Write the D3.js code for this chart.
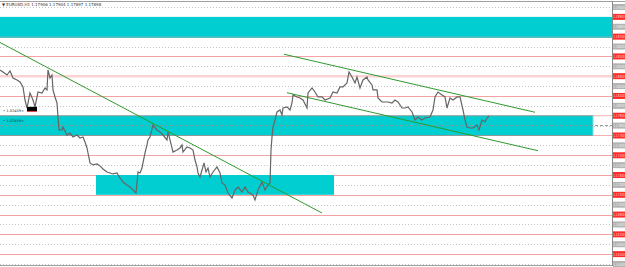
<!DOCTYPE html>
<html><head><meta charset="utf-8">
<script src="https://cdn.jsdelivr.net/npm/d3@7"></script>
<style>body{margin:0;background:#fff}svg{display:block}</style></head>
<body>
<script>
// ---- data ----
const bars = [0,3,7,10,13,17,20,23,25,27,30,33,35,38,42,45,47,48,50,52,53,55,57,58,59,62,63,67,70,73,77,80,83,85,87,88,90,93,97,100,103,107,110,113,117,120,123,127,130,133,136,137,138,140,142,143,145,147,148,150,153,157,160,163,167,168,170,172,173,177,180,182,183,187,190,193,195,197,198,200,202,204,206,208,210,213,217,220,222,225,228,232,235,238,242,245,248,253,255,258,262,265,268,270,271,272,273,275,277,280,282,283,287,290,292,293,297,300,303,307,308,312,315,318,322,325,330,333,337,340,343,347,349,352,355,357,360,363,367,368,372,373,377,378,382,385,388,392,395,398,402,405,408,412,415,418,422,425,430,433,435,438,442,445,447,450,453,457,460,463,465,467,470,473,477,479,482,485,487,489];
const closes = [1.18363,1.18343,1.18312,1.18353,1.18282,1.18262,1.18241,1.18191,1.18059,1.17978,1.18130,1.18059,1.17989,1.18140,1.18130,1.18181,1.18161,1.18363,1.18282,1.18312,1.18161,1.18090,1.18029,1.17887,1.17756,1.17756,1.17786,1.17705,1.17725,1.17685,1.17705,1.17675,1.17685,1.17634,1.17574,1.17523,1.17422,1.17402,1.17412,1.17392,1.17361,1.17331,1.17321,1.17311,1.17321,1.17270,1.17230,1.17199,1.17179,1.17149,1.17118,1.17220,1.17331,1.17321,1.17371,1.17422,1.17523,1.17604,1.17655,1.17685,1.17806,1.17756,1.17736,1.17705,1.17655,1.17736,1.17655,1.17574,1.17533,1.17553,1.17574,1.17604,1.17533,1.17584,1.17574,1.17553,1.17452,1.17382,1.17321,1.17280,1.17351,1.17422,1.17331,1.17371,1.17280,1.17331,1.17382,1.17321,1.17220,1.17199,1.17118,1.17068,1.17149,1.17179,1.17129,1.17179,1.17129,1.17098,1.17048,1.17149,1.17230,1.17149,1.17199,1.17220,1.17553,1.17685,1.17786,1.17857,1.17938,1.17958,1.17908,1.17978,1.17989,1.17958,1.18029,1.18110,1.18090,1.18080,1.18059,1.17978,1.18130,1.18181,1.18140,1.18090,1.18090,1.18059,1.18080,1.18140,1.18130,1.18191,1.18191,1.18231,1.18343,1.18292,1.18231,1.18292,1.18181,1.18262,1.18292,1.18262,1.18211,1.18161,1.18161,1.18080,1.18039,1.18039,1.18039,1.18029,1.18059,1.18039,1.17978,1.17978,1.17989,1.17938,1.17857,1.17887,1.17857,1.17877,1.17887,1.17958,1.18090,1.18140,1.18110,1.18090,1.17978,1.18080,1.18059,1.18090,1.18090,1.17958,1.17857,1.17786,1.17776,1.17776,1.17806,1.17756,1.17857,1.17837,1.17877,1.17897];

const gridPrices = [1.190,1.188,1.186,1.184,1.182,1.180,1.178,1.176,1.174,1.172,1.170,1.168,1.166,1.164];
const levelPrices = [1.189,1.187,1.185,1.183,1.181,1.179,1.177,1.175,1.173,1.171,1.169,1.167,1.165];
const redLines = [1.185,1.181,1.175,1.173,1.171,1.169,1.167,1.165];
const pinkLines = [1.183];
const dashedLines = [1.1780];

const zoneBar0 = [0, 0, 96];
const zoneBar1 = [612, 593, 334];
const zoneHigh = [1.1890, 1.1790, 1.1730];
const zoneLow  = [1.1870, 1.1770, 1.1710];

const trendBar0 = [0, 284, 287];
const trendP0   = [1.18641, 1.18522, 1.18133];
const trendBar1 = [322, 535, 538];
const trendP1   = [1.16916, 1.17935, 1.17546];

const headerText = "\u25BC EURUSD,H1  1.17906 1.17904 1.17897 1.17898";
const markerLabel = "1.02459";

// ---- drawing ----
const W = 625, H = 267, plotR = 612;
const svg = d3.select("body").append("svg").attr("width", W).attr("height", H)
  .style("font-family", "DejaVu Sans, sans-serif");
svg.append("rect").attr("width", W).attr("height", H).attr("fill", "#fff");

const x = d3.scaleLinear().domain([0, 612]).range([0, plotR]);
const y = d3.scaleLinear().domain([1.190, 1.164]).range([7, 264]);

const g = svg.append("g");

// dotted grid
g.selectAll(".grid").data(gridPrices).join("line")
  .attr("x1", 0).attr("x2", plotR)
  .attr("y1", d => Math.round(y(d)) + 0.5).attr("y2", d => Math.round(y(d)) + 0.5)
  .attr("stroke", "#c4c4c4").attr("stroke-dasharray", "1,2");

// red level lines
g.selectAll(".red").data(redLines).join("line")
  .attr("x1", 0).attr("x2", plotR)
  .attr("y1", d => Math.round(y(d)) + 0.5).attr("y2", d => Math.round(y(d)) + 0.5)
  .attr("stroke", "#f3a3a3").attr("stroke-width", 1);
g.selectAll(".pink").data(pinkLines).join("line")
  .attr("x1", 0).attr("x2", plotR)
  .attr("y1", d => y(d)).attr("y2", d => y(d))
  .attr("stroke", "#fbd3d3").attr("stroke-width", 2.5);

// zones
const zones = zoneBar0.map((b, i) => ({b0: b, b1: zoneBar1[i], hi: zoneHigh[i], lo: zoneLow[i], i}));
g.selectAll(".zone").data(zones).join("rect")
  .attr("x", d => x(d.b0)).attr("width", d => x(d.b1) - x(d.b0))
  .attr("y", d => y(d.hi)).attr("height", d => y(d.lo) - y(d.hi))
  .attr("fill", "#00ced1");
g.append("line").attr("x1", x(zones[0].b0)).attr("x2", x(zones[0].b1))
  .attr("y1", y(zones[0].lo) + 0.5).attr("y2", y(zones[0].lo) + 0.5)
  .attr("stroke", "#1fa7a9").attr("stroke-width", 1.2);
[zones[1].hi, zones[1].lo].forEach(p => {
  g.append("line").attr("x1", 0).attr("x2", x(zones[1].b1))
    .attr("y1", y(p)).attr("y2", y(p))
    .attr("stroke", "#8e9a9a").attr("stroke-width", 1.2);
  g.append("line").attr("x1", x(zones[1].b1)).attr("x2", plotR)
    .attr("y1", y(p)).attr("y2", y(p))
    .attr("stroke", "#f3b0b0").attr("stroke-width", 1);
});
g.append("line").attr("x1", x(zones[1].b1)).attr("x2", x(zones[1].b1))
  .attr("y1", y(zones[1].hi)).attr("y2", y(zones[1].lo))
  .attr("stroke", "#8fd6d6").attr("stroke-width", 1);

// dashed line
g.selectAll(".dash").data(dashedLines).join("line")
  .attr("x1", 0).attr("x2", plotR)
  .attr("y1", d => y(d)).attr("y2", d => y(d))
  .attr("stroke", "#8a9696").attr("stroke-dasharray", "3,2");

// price line
const pts = bars.map((b, i) => [b, closes[i]]);
g.append("path").datum(pts)
  .attr("d", d3.line().x(d => x(d[0])).y(d => y(d[1])))
  .attr("fill", "none").attr("stroke", "#656565").attr("stroke-width", 1.2)
  .attr("stroke-linejoin", "miter");

// trendlines
const tls = trendBar0.map((b, i) => ({b0: b, p0: trendP0[i], b1: trendBar1[i], p1: trendP1[i]}));
g.selectAll(".tl").data(tls).join("line")
  .attr("x1", d => x(d.b0)).attr("y1", d => y(d.p0))
  .attr("x2", d => x(d.b1)).attr("y2", d => y(d.p1))
  .attr("stroke", "#2f9a2f").attr("stroke-width", 1);

// left marker labels
g.append("text").attr("x", 3).attr("y", y(1.1794)).attr("font-size", 3.6).attr("fill", "#333")
  .text("\u2022 " + markerLabel + "\u00d7");
g.append("rect").attr("x", 27).attr("y", y(1.1799)).attr("width", 10).attr("height", 4.5).attr("fill", "#000");
g.append("line").attr("x1", 27).attr("x2", 37).attr("y1", y(1.1799) + 4.7).attr("y2", y(1.1799) + 4.7)
  .attr("stroke", "#e33").attr("stroke-width", 0.8);
g.append("text").attr("x", 3).attr("y", y(1.1784)).attr("font-size", 3.6).attr("fill", "#244")
  .text("\u2022 " + markerLabel + "\u00d7");

// frame / axis
svg.append("line").attr("x1", 0).attr("x2", W).attr("y1", 1.5).attr("y2", 1.5).attr("stroke", "#a0a0a0");
svg.append("line").attr("x1", 0).attr("x2", W).attr("y1", 265.5).attr("y2", 265.5).attr("stroke", "#a0a0a0");
svg.append("line").attr("x1", plotR + 0.5).attr("x2", plotR + 0.5).attr("y1", 1).attr("y2", 266).attr("stroke", "#8a8a8a");

// axis labels
const axisG = svg.append("g");
axisG.selectAll(".gl").data(gridPrices).join("rect")
  .attr("x", plotR + 1).attr("y", d => y(d) - 3).attr("width", W - plotR).attr("height", 6)
  .attr("fill", "#b3b3b3");
axisG.selectAll(".gt").data(gridPrices).join("text")
  .attr("transform", d => `translate(${plotR + 1.2},${y(d) + 1.5}) scale(1,1.4)`)
  .attr("font-size", 2.8).attr("fill", "#f2f2f2")
  .text(d => d.toFixed(5));
axisG.selectAll(".rl").data(levelPrices).join("rect")
  .attr("x", plotR + 1).attr("y", d => y(d) - 3).attr("width", W - plotR).attr("height", 6)
  .attr("fill", "#ff2a2a");
axisG.selectAll(".rt").data(levelPrices).join("text")
  .attr("transform", d => `translate(${plotR + 1.2},${y(d) + 1.5}) scale(1,1.4)`)
  .attr("font-size", 2.8).attr("fill", "#ffdada")
  .text(d => d.toFixed(5));

// header
svg.append("text").attr("x", 2).attr("y", 6).attr("font-size", 4).attr("fill", "#333").text(headerText);
</script>
</body></html>
